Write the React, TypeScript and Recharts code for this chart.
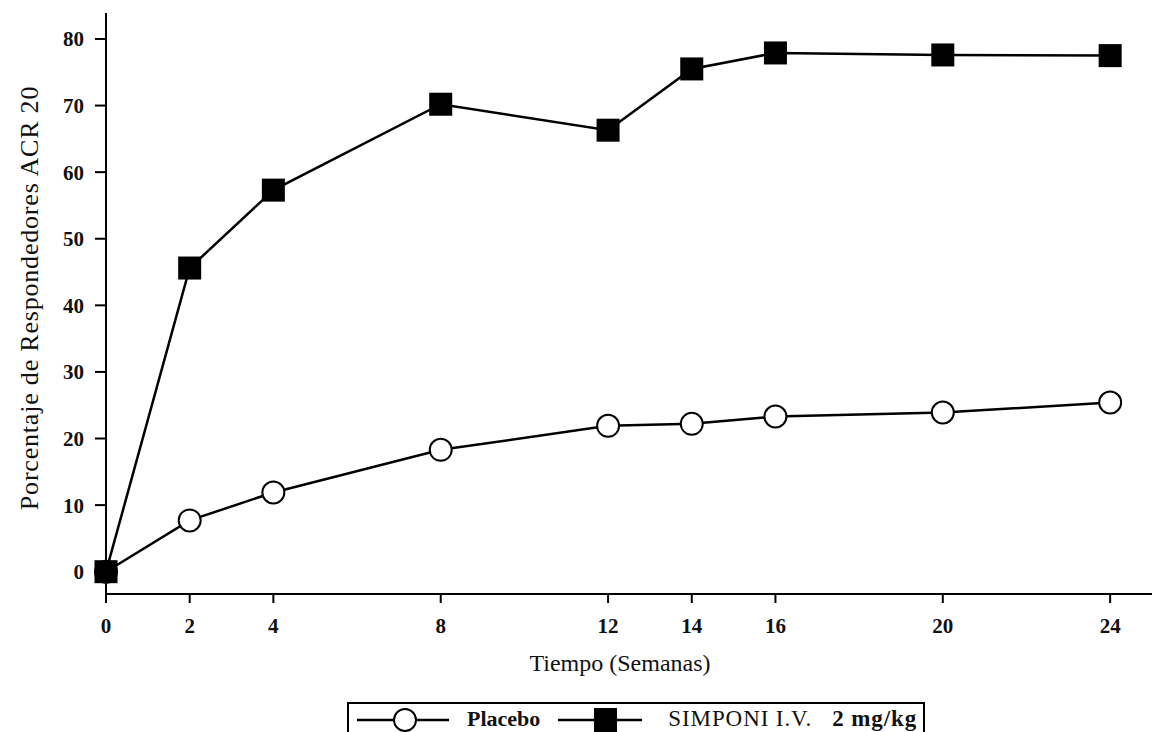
import React from 'react';
import { LineChart, Line, XAxis, YAxis } from 'recharts';

// weeks
const weeks = [0, 2, 4, 8, 12, 14, 16, 20, 24];
const placebo = [0, 7.7, 11.9, 18.3, 21.9, 22.2, 23.3, 23.9, 25.4];
const simponi = [0, 45.6, 57.3, 70.2, 66.3, 75.5, 77.9, 77.6, 77.5];
const yTicks = [0, 10, 20, 30, 40, 50, 60, 70, 80];

const data = weeks.map((w, i) => ({ week: w, placebo: placebo[i], simponi: simponi[i] }));

const FONT = '"Liberation Serif", "DejaVu Serif", serif';

const SquareDot = (props: any) => {
  const { cx, cy } = props;
  if (cx == null || cy == null) return null;
  return <rect x={cx - 11.5} y={cy - 11.5} width={23} height={23} fill="#000" />;
};

const CircleDot = (props: any) => {
  const { cx, cy } = props;
  if (cx == null || cy == null) return null;
  return <circle cx={cx} cy={cy} r={11} fill="#fff" stroke="#000" strokeWidth={2} />;
};

export default function App() {
  return (
    <div style={{ position: 'absolute', left: 0, top: 0, width: 1152, height: 732, overflow: 'hidden', background: '#fff' }}>
      <LineChart width={1152} height={732} data={data} margin={{ top: 13, right: 0, bottom: 0, left: 0 }}>
        <XAxis
          dataKey="week"
          type="number"
          domain={[0, 25]}
          ticks={weeks}
          interval={0}
          height={138}
          tickSize={9}
          tickMargin={15}
          stroke="#000"
          strokeWidth={2}
          tick={{ fill: '#111', fontSize: 21, fontWeight: 'bold', fontFamily: FONT }}
          label={{
            content: () => (
              <text x={620} y={671} textAnchor="middle" fontSize={24} fontFamily={FONT} fill="#111">
                Tiempo (Semanas)
              </text>
            ),
          }}
        />
        <XAxis xAxisId="top" orientation="top" type="number" domain={[0, 25]} height={0} tick={false} tickLine={false} stroke="#000" strokeWidth={2} />
        <YAxis
          type="number"
          domain={[-3.35, 83.9]}
          ticks={yTicks}
          interval={0}
          width={106}
          tickSize={11}
          tickMargin={11}
          stroke="#000"
          strokeWidth={2}
          tick={{ fill: '#111', fontSize: 21, fontWeight: 'bold', fontFamily: FONT }}
          label={{
            content: () => (
              <text x={29} y={298} transform="rotate(-90 29 298)" textAnchor="middle" dominantBaseline="central" fontSize={26} letterSpacing={0.8} fontFamily={FONT} fill="#111">
                Porcentaje de Respondedores ACR 20
              </text>
            ),
          }}
        />
        <Line dataKey="placebo" stroke="#000" strokeWidth={2.5} dot={<CircleDot />} isAnimationActive={false} />
        <Line dataKey="simponi" stroke="#000" strokeWidth={2.5} dot={<SquareDot />} isAnimationActive={false} />
      </LineChart>
      <div
        style={{
          position: 'absolute',
          left: 347,
          top: 702,
          width: 578,
          height: 40,
          border: '2px solid #000',
          fontFamily: FONT,
          fontSize: 22,
          lineHeight: '26px',
          color: '#111',
          display: 'flex',
          alignItems: 'flex-start',
          paddingTop: 2,
          boxSizing: 'border-box',
        }}
      >
        <svg width={100} height={26} style={{ marginLeft: 8 }}>
          <line x1={0} y1={14} x2={92} y2={14} stroke="#000" strokeWidth={2.5} />
          <circle cx={48} cy={14} r={11} fill="#fff" stroke="#000" strokeWidth={2} />
        </svg>
        <span style={{ marginLeft: 10, fontWeight: 'bold' }}>Placebo</span>
        <svg width={90} height={26} style={{ marginLeft: 18 }}>
          <line x1={0} y1={14} x2={84} y2={14} stroke="#000" strokeWidth={2.5} />
          <rect x={36} y={2} width={23} height={24} fill="#000" />
        </svg>
        <span style={{ marginLeft: 20, fontSize: 23, letterSpacing: 0.9 }}>SIMPONI I.V.&nbsp;&nbsp;&nbsp;<b>2 mg/kg</b></span>
      </div>
    </div>
  );
}
